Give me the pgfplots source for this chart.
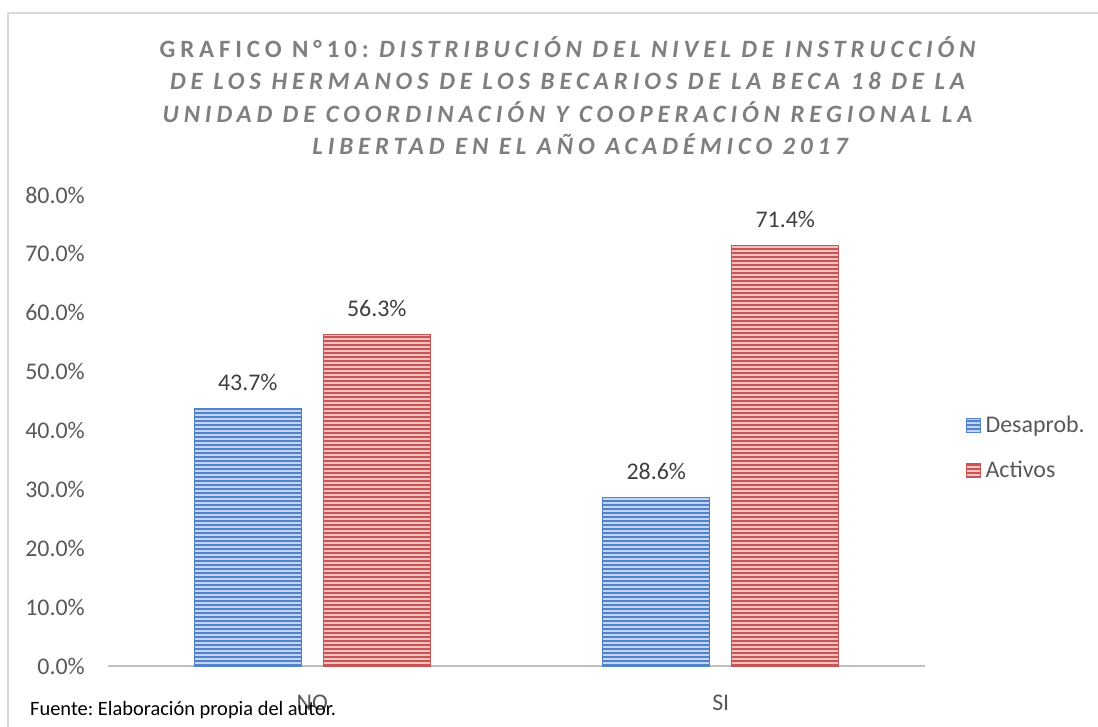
\documentclass[border=0pt]{standalone}
\usepackage{pgfplots}
\pgfplotsset{compat=1.18}
\usepackage{fontspec}
\setmainfont{Carlito}
\usetikzlibrary{patterns.meta}
\definecolor{tickgray}{HTML}{595959}
\definecolor{labgray}{HTML}{404040}
\definecolor{titlegray}{HTML}{7F7F7F}
\definecolor{bluedark}{HTML}{5282CC}
\definecolor{bluelight}{HTML}{C2D6F2}
\definecolor{reddark}{HTML}{C95454}
\definecolor{redlight}{HTML}{F0C2C2}
\definecolor{framegray}{HTML}{D9D9D9}
\definecolor{axisgray}{HTML}{BFBFBF}
\pgfplotsset{squareleg/.style={legend image code/.code={\draw[##1] (0bp,-7bp) rectangle (14bp,7bp);}}}
\frenchspacing
\begin{document}
\begin{tikzpicture}[x=1bp,y=1bp]
\useasboundingbox (0,0) rectangle (1098,727);
\fill[white] (0,0) rectangle (1098,727);
\draw[framegray, line width=2bp] (8,0) -- (8,714) -- (1098,714);
\tikzset{ttl/.style={anchor=base, text=titlegray, inner sep=0,
  font=\fontsize{25}{30}\selectfont\bfseries\addfontfeatures{LetterSpace=19.5}}}
\node[ttl] at (570,669) {GRAFICO N°10: \textit{DISTRIBUCIÓN DEL NIVEL DE INSTRUCCIÓN}};
\node[ttl] at (570,637) {\textit{DE LOS HERMANOS DE LOS BECARIOS DE LA BECA 18 DE LA}};
\node[ttl] at (570,604) {\textit{UNIDAD DE COORDINACIÓN Y COOPERACIÓN REGIONAL LA}};
\node[ttl] at (583,572) {\textit{LIBERTAD EN EL AÑO ACADÉMICO 2017}};
\begin{axis}[
  at={(108bp,61bp)}, anchor=south west,
  scale only axis, width=817bp, height=471bp,
  xmin=-0.5, xmax=1.5, ymin=0, ymax=80,
  ybar=22bp, bar width=107bp,
  axis y line=none,
  axis x line*=bottom,
  x axis line style={draw=axisgray, line width=2.5bp, -},
  xtick={0,1}, xticklabels={NO,SI},
  major tick length=0pt,
  xticklabel style={font=\fontsize{24}{28}\selectfont, text=tickgray, anchor=base, inner sep=0, yshift=-45bp},
  clip=false,
  nodes near coords,
  point meta=explicit symbolic,
  every node near coord/.append style={font=\fontsize{24}{28}\selectfont, text=labgray, anchor=base, inner sep=0, yshift=18bp},
  legend style={at={(1.0463,0.463)}, anchor=west, draw=none, fill=none,
    font=\fontsize{24}{28}\selectfont, text=tickgray, row sep=25bp,
    nodes={inner sep=1bp}},
  legend cell align=left,
]
\addplot[draw=bluedark, line width=0.6bp, fill=bluedark,
  postaction={pattern={Lines[angle=0,distance=4bp,line width=1.8bp]}, pattern color=bluelight},
  squareleg]
  coordinates {(0,43.7) [43.7\%] (1,28.6) [28.6\%]};
\addlegendentry{\hspace{4bp}Desaprob.}
\addplot[draw=reddark, line width=0.6bp, fill=reddark,
  postaction={pattern={Lines[angle=0,distance=4bp,line width=1.8bp]}, pattern color=redlight},
  squareleg]
  coordinates {(0,56.3) [56.3\%] (1,71.4) [71.4\%]};
\addlegendentry{\hspace{4bp}Activos}
\end{axis}
\begin{axis}[
  at={(108bp,61bp)}, anchor=south west,
  scale only axis, width=817bp, height=471bp,
  xmin=-0.5, xmax=1.5, ymin=0, ymax=80,
  axis x line=none, axis y line*=left,
  y axis line style={draw=none},
  major tick length=0pt,
  ytick={0,10,20,30,40,50,60,70,80},
  yticklabels={0.0\%,10.0\%,20.0\%,30.0\%,40.0\%,50.0\%,60.0\%,70.0\%,80.0\%},
  yticklabel style={font=\fontsize{24}{28}\selectfont, text=tickgray, anchor=east, inner sep=0, xshift=-23bp},
]
\addplot[draw=none, forget plot] coordinates {(0,0)};
\end{axis}
\node[anchor=base west, inner sep=0, font=\fontsize{20.5}{24}\selectfont] at (30,11) {Fuente: Elaboración propia del autor.};
\end{tikzpicture}
\end{document}
